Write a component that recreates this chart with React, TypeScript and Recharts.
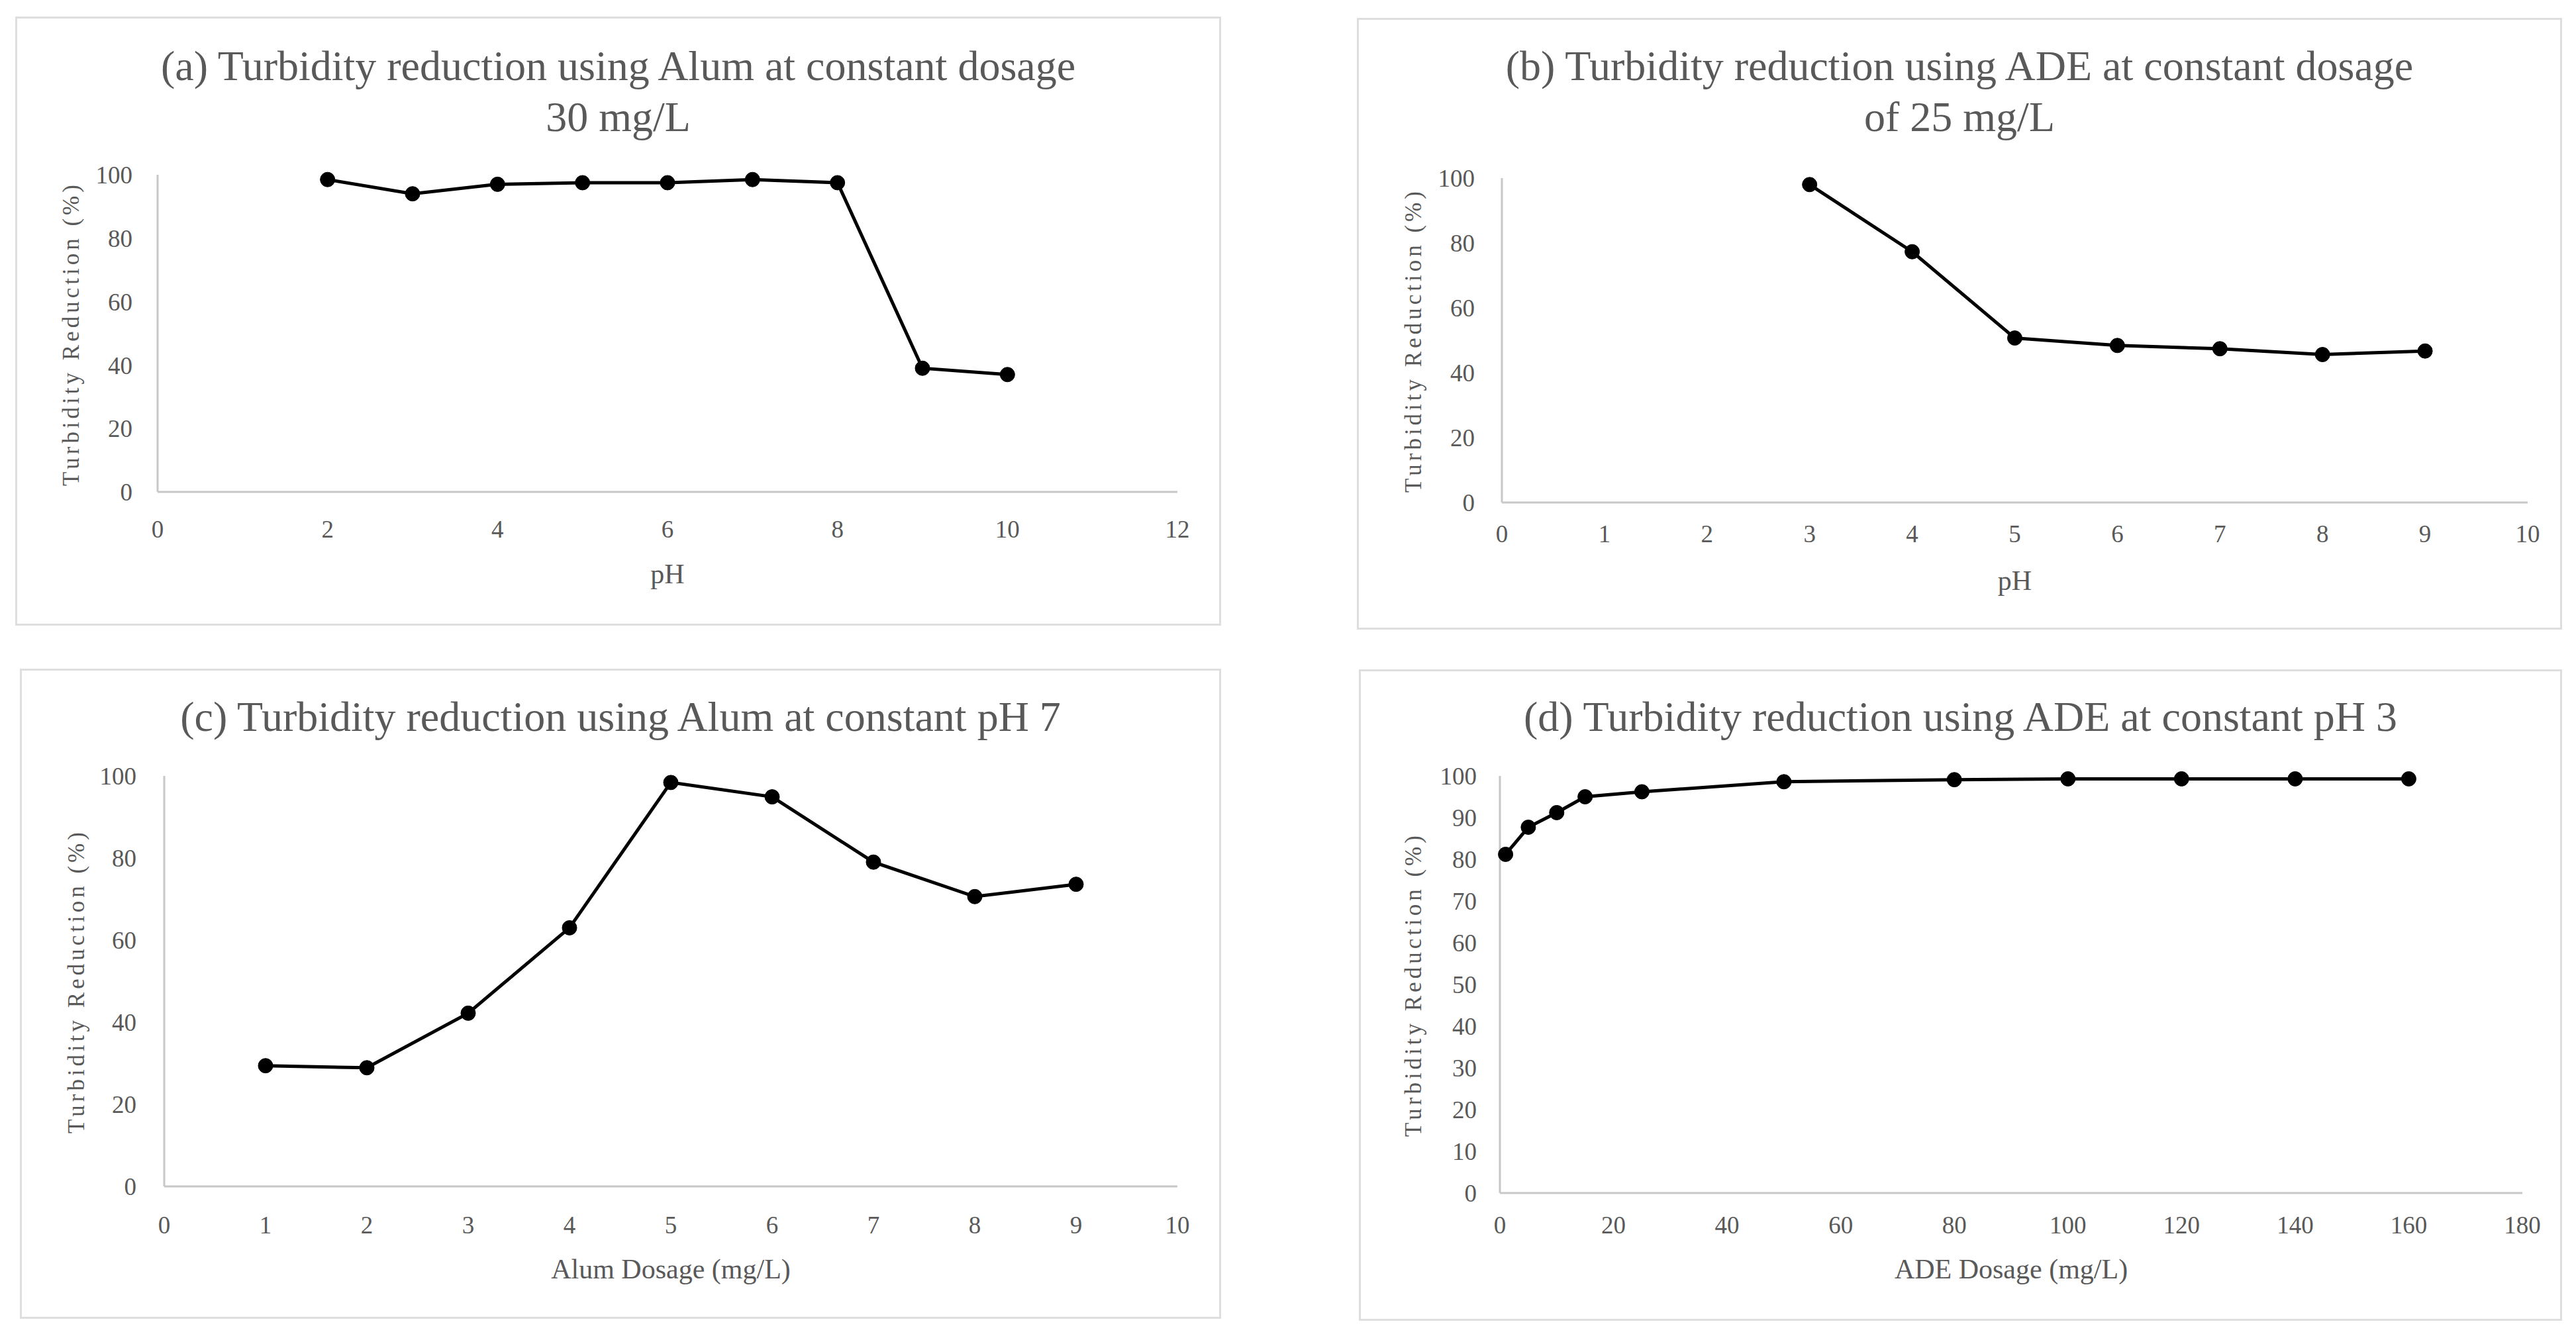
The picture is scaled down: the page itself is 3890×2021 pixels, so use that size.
import React from 'react';
import { LineChart, Line, XAxis, YAxis } from 'recharts';

// ---- data ----
const phA = [2, 3, 4, 5, 6, 7, 8, 9, 10];
const reductionA = [98.5, 94, 97, 97.5, 97.5, 98.5, 97.5, 39, 37];

const phB = [3, 4, 5, 6, 7, 8, 9];
const reductionB = [98, 77.3, 50.7, 48.4, 47.4, 45.6, 46.7];

const alumDoseC = [1, 2, 3, 4, 5, 6, 7, 8, 9];
const reductionC = [29.4, 28.9, 42.2, 63, 98.4, 94.9, 79, 70.6, 73.6];

const adeDoseD = [1, 5, 10, 15, 25, 50, 80, 100, 120, 140, 160];
const reductionD = [81.2, 87.7, 91.2, 95, 96.2, 98.6, 99.1, 99.3, 99.3, 99.3, 99.3];

const xTicksA = [0, 2, 4, 6, 8, 10, 12];
const xTicksB = [0, 1, 2, 3, 4, 5, 6, 7, 8, 9, 10];
const xTicksC = [0, 1, 2, 3, 4, 5, 6, 7, 8, 9, 10];
const xTicksD = [0, 20, 40, 60, 80, 100, 120, 140, 160, 180];
const yTicks20 = [0, 20, 40, 60, 80, 100];
const yTicks10 = [0, 10, 20, 30, 40, 50, 60, 70, 80, 90, 100];

const titleA = ['(a) Turbidity reduction using Alum at constant dosage', '30 mg/L'];
const titleB = ['(b) Turbidity reduction using ADE at constant dosage', 'of 25 mg/L'];
const titleC = ['(c) Turbidity reduction using Alum at constant pH 7'];
const titleD = ['(d) Turbidity reduction using ADE at constant pH 3'];

const yLabel = 'Turbidity Reduction (%)';

const toRows = (xs: number[], ys: number[]) => xs.map((x, i) => ({ x, y: ys[i] }));

const FONT = '"Liberation Serif", "Times New Roman", serif';
const TEXT = '#595959';
const AXIS = '#c8c8c8';
const XAH = 60;
const YAW = 100;

type PanelProps = {
  box: { l: number; t: number; w: number; h: number };
  plot: { left: number; top: number; right: number; bottom: number };
  xTickGap: number;
  yTickGap: number;
  titleY: number[];
  xLabelY: number;
  yLabelX: number;
  title: string[];
  xLabel: string;
  rows: { x: number; y: number }[];
  xTicks: number[];
  yTicks: number[];
};

function Panel(p: PanelProps) {
  const { box, plot } = p;
  const margin = {
    top: plot.top,
    right: box.w - plot.right,
    bottom: box.h - plot.bottom - XAH,
    left: plot.left - YAW,
  };
  const xMax = p.xTicks[p.xTicks.length - 1];
  const plotCx = (plot.left + plot.right) / 2;
  const plotCy = (plot.top + plot.bottom) / 2;
  return (
    <div style={{ position: 'absolute', left: box.l, top: box.t, width: box.w, height: box.h }}>
      <div
        style={{
          position: 'absolute',
          left: 0,
          top: 0,
          width: box.w,
          height: box.h,
          boxSizing: 'border-box',
          border: '3px solid #dedede',
        }}
      />
      <div style={{ position: 'absolute', left: 0, top: 0 }}>
        <LineChart width={box.w} height={box.h} data={p.rows} margin={margin}>
          <XAxis
            dataKey="x"
            type="number"
            domain={[0, xMax]}
            ticks={p.xTicks}
            interval={0}
            height={XAH}
            tickLine={false}
            tickSize={0}
            tickMargin={p.xTickGap - 14}
            axisLine={{ stroke: AXIS, strokeWidth: 3 }}
            tick={{ fill: TEXT, fontSize: 37, fontFamily: FONT }}
          />
          <YAxis
            type="number"
            domain={[0, 100]}
            ticks={p.yTicks}
            interval={0}
            width={YAW}
            tickLine={false}
            tickSize={0}
            tickMargin={p.yTickGap}
            axisLine={{ stroke: AXIS, strokeWidth: 3 }}
            tick={{ fill: TEXT, fontSize: 37, fontFamily: FONT }}
          />
          <Line
            dataKey="y"
            type="linear"
            stroke="#000000"
            strokeWidth={5}
            dot={{ r: 11, fill: '#000000', stroke: '#000000', strokeWidth: 1 }}
            isAnimationActive={false}
          />
        </LineChart>
      </div>
      {p.title.map((t, i) => (
        <div
          key={i}
          style={{
            position: 'absolute',
            left: 0,
            width: box.w,
            top: p.titleY[i] - 32,
            textAlign: 'center',
            fontFamily: FONT,
            fontSize: 64,
            lineHeight: 1,
            color: TEXT,
            whiteSpace: 'nowrap',
          }}
        >
          {t}
        </div>
      ))}
      <div
        style={{
          position: 'absolute',
          left: plotCx,
          top: p.xLabelY,
          transform: 'translate(-50%, -50%)',
          fontFamily: FONT,
          fontSize: 42,
          lineHeight: 1,
          color: TEXT,
          whiteSpace: 'nowrap',
        }}
      >
        {p.xLabel}
      </div>
      <div
        style={{
          position: 'absolute',
          left: p.yLabelX,
          top: plotCy,
          transform: 'translate(-50%, -50%) rotate(-90deg)',
          fontFamily: FONT,
          fontSize: 35,
          letterSpacing: 5,
          lineHeight: 1,
          color: TEXT,
          whiteSpace: 'nowrap',
        }}
      >
        {yLabel}
      </div>
    </div>
  );
}

export default function App() {
  return (
    <div
      style={{
        position: 'absolute',
        left: 0,
        top: 0,
        width: 3890,
        height: 2021,
        background: '#ffffff',
        overflow: 'hidden',
      }}
    >
      <Panel
        box={{ l: 23, t: 25, w: 1821, h: 920 }}
        plot={{ left: 215, top: 239, right: 1755, bottom: 718 }}
        xTickGap={57}
        yTickGap={38}
        titleY={[75, 152]}
        xLabelY={842}
        yLabelX={84}
        title={titleA}
        xLabel="pH"
        rows={toRows(phA, reductionA)}
        xTicks={xTicksA}
        yTicks={yTicks20}
      />
      <Panel
        box={{ l: 2049, t: 27, w: 1820, h: 924 }}
        plot={{ left: 219, top: 242, right: 1768, bottom: 732 }}
        xTickGap={48}
        yTickGap={41}
        titleY={[73, 150]}
        xLabelY={850}
        yLabelX={85}
        title={titleB}
        xLabel="pH"
        rows={toRows(phB, reductionB)}
        xTicks={xTicksB}
        yTicks={yTicks20}
      />
      <Panel
        box={{ l: 30, t: 1010, w: 1814, h: 982 }}
        plot={{ left: 218, top: 162, right: 1748, bottom: 782 }}
        xTickGap={59}
        yTickGap={42}
        titleY={[73]}
        xLabelY={907}
        yLabelX={85}
        title={titleC}
        xLabel="Alum Dosage (mg/L)"
        rows={toRows(alumDoseC, reductionC)}
        xTicks={xTicksC}
        yTicks={yTicks20}
      />
      <Panel
        box={{ l: 2052, t: 1011, w: 1817, h: 984 }}
        plot={{ left: 213, top: 161, right: 1757, bottom: 791 }}
        xTickGap={49}
        yTickGap={35}
        titleY={[72]}
        xLabelY={906}
        yLabelX={82}
        title={titleD}
        xLabel="ADE Dosage (mg/L)"
        rows={toRows(adeDoseD, reductionD)}
        xTicks={xTicksD}
        yTicks={yTicks10}
      />
    </div>
  );
}
